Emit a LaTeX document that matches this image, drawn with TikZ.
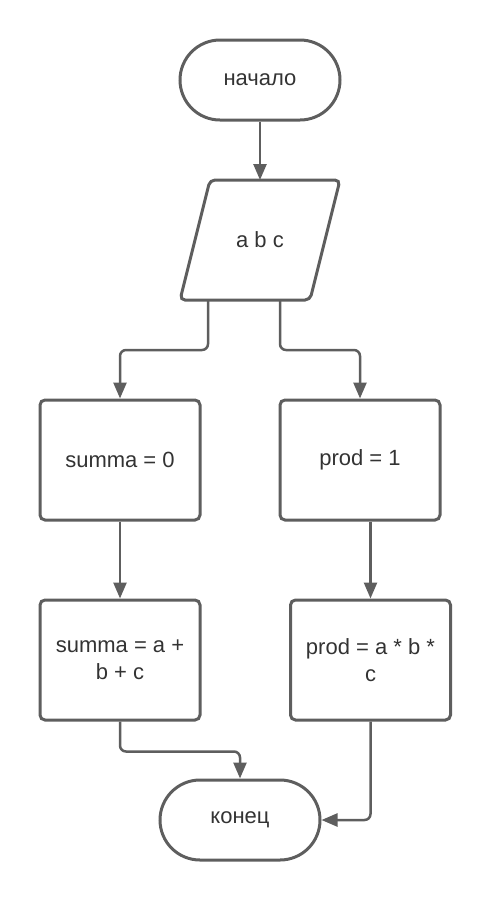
\documentclass[tikz,border=0pt]{standalone}
\usepackage{fontspec}
\setmainfont{Liberation Sans}
\usepackage{tikz}
\usetikzlibrary{arrows.meta}
\definecolor{linegray}{RGB}{94,94,94}
\definecolor{textgray}{RGB}{51,51,51}

\begin{document}
\begin{tikzpicture}[x=1pt,y=-1pt,
    every node/.style={text=textgray,font=\fontsize{22}{27}\selectfont,align=center},
    term/.style={draw=linegray,line width=3pt,rounded corners=40pt,minimum width=160pt,minimum height=80pt},
    proc/.style={draw=linegray,line width=3pt,rounded corners=5pt,minimum width=160pt,minimum height=120pt},
    io/.style={minimum width=130pt,minimum height=120pt,inner sep=0pt,outer sep=0pt},
    conn/.style={draw=linegray,line width=2.5pt,rounded corners=6pt,-{Triangle[length=16pt,width=13pt]}}]
    \useasboundingbox (0,0) rectangle (491,900);
    \node[term] (start) at (260,80) {начало};
    \node[io] (inp) at (260,240) {a b c};
    \draw[draw=linegray,line width=3pt,rounded corners=5pt] ([xshift=-15pt]inp.south west) -- ([xshift=15pt]inp.north west)
      -- ([xshift=15pt]inp.north east) -- ([xshift=-15pt]inp.south east) -- cycle;
    \node[proc] (sum0) at (120,460) {summa = 0};
    \node[proc] (prod1) at (360,460) {prod = 1};
    \node[proc] (sum) at (120,660) {summa = a +\\ b + c};
    \node[proc] (prod) at (370.5,660) {prod = a * b *\\ c};
    \node[term] (stop) at (240,820) {конец};
    \draw[conn] (start) to (inp.north);
    \draw[conn] ([xshift=-52pt]inp.south) -- ++(0,50) -| (sum0.north);
    \draw[conn] ([xshift=20pt]inp.south) -- ++(0,50) -| (prod1.north);
    \draw[conn] (sum0) to (sum);
    \draw[conn] (prod.north |- prod1.south) to (prod.north);
    \draw[conn] (sum.south) -- ++(0,30) -| (stop.north);
    \draw[conn] (prod.south) |- (stop.east);
  \end{tikzpicture}
\end{document}
